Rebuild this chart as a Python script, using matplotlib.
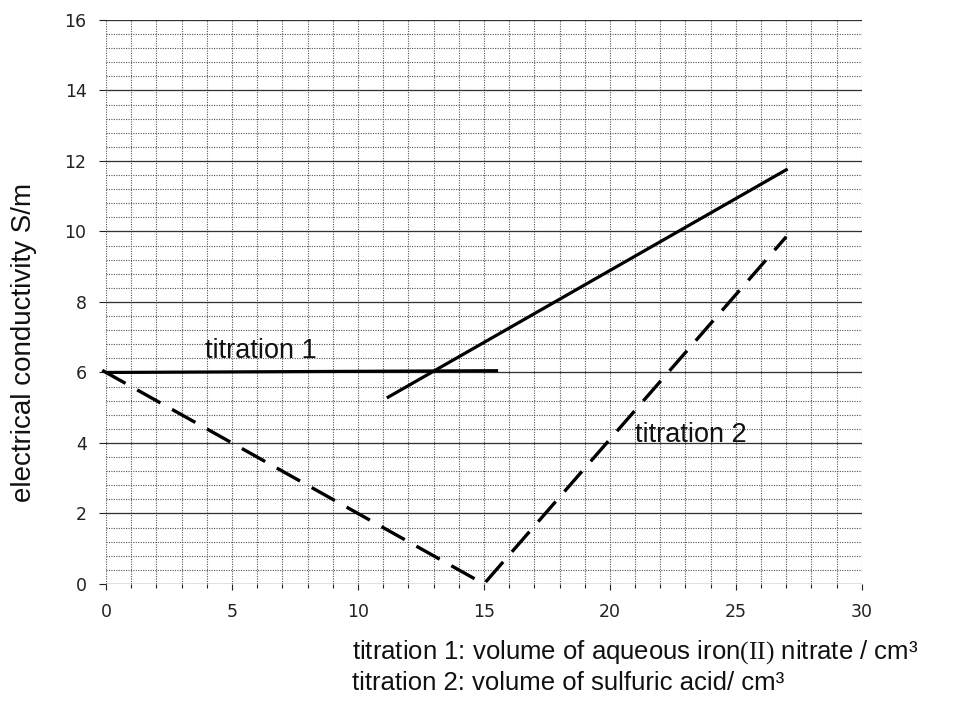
import numpy as np
import matplotlib.pyplot as plt

plt.rcParams['font.family'] = ['Liberation Sans', 'DejaVu Sans']
plt.rcParams['mathtext.fontset'] = 'custom'
plt.rcParams['mathtext.rm'] = 'Liberation Serif'

# titration 1 (solid): flat run, then the rising branch
t1_flat_x = [0, 15.5]
t1_flat_y = [6.0, 6.05]
t1_rise_x = [11.2, 27.0]
t1_rise_y = [5.3, 11.75]

# titration 2 (dashed): V-shaped curve with minimum at 15 cm3
t2_x = [-0.15, 0, 15, 27.0]
t2_y = [6.06, 6.0, 0.0, 9.85]

x_ticks = [0, 5, 10, 15, 20, 25, 30]
y_ticks = [0, 2, 4, 6, 8, 10, 12, 14, 16]

fig = plt.figure(figsize=(9.64, 7.10), dpi=100)
ax = fig.add_axes([0.110, 0.1775, 0.784, 0.7944])

ax.set_xlim(0, 30)
ax.set_ylim(0, 16)

# graph-paper grid: dotted every 1 unit in x, every 0.4 in y, solid at the majors
for xv in np.arange(0, 31, 1):
    ax.axvline(xv, color='#555555', lw=0.8, ls=(0, (1, 1.2)), zorder=1)
for yv in np.arange(0, 16.01, 0.4):
    ax.axhline(yv, color='#555555', lw=0.8, ls=(0, (1, 1.2)), zorder=1)
for yv in y_ticks:
    ax.axhline(yv, color='#333333', lw=0.9, zorder=1)

for s in ax.spines.values():
    s.set_visible(False)

ax.set_xticks(x_ticks)
ax.set_xticks(np.arange(0, 31, 1), minor=True)
ax.set_yticks(y_ticks)
ax.tick_params(axis='x', length=4, width=0.8, labelsize=12.5, pad=10, colors='#222222')
ax.tick_params(axis='x', which='minor', length=3, width=0.8, colors='#222222')
ax.tick_params(axis='y', length=5, width=0.8, labelsize=12.5, pad=9, colors='#222222')
for lab in ax.get_xticklabels() + ax.get_yticklabels():
    lab.set_family('DejaVu Sans')

ax.plot(t1_flat_x, t1_flat_y, color='black', lw=2.3, zorder=3)
ax.plot(t1_rise_x, t1_rise_y, color='black', lw=2.3, zorder=3)
ax.plot(t2_x, t2_y, color='black', lw=2.4, ls=(0, (8, 4)), zorder=3, clip_on=False)

ax.text(3.93, 6.41, 'titration 1', fontsize=19.5, color='#111111', zorder=4)
ax.text(21.0, 4.03, 'titration 2', fontsize=19.5, color='#111111', zorder=4)

fig.text(0.025, 0.517, 'electrical conductivity S/m', fontsize=20, rotation=90,
         ha='center', va='center', color='#111111')

fig.text(0.365, 0.073, r'titration 1: volume of aqueous iron$\mathrm{(II)}$ nitrate / cm³',
         fontsize=18.5, color='#111111', va='baseline')
fig.text(0.365, 0.028, 'titration 2: volume of sulfuric acid/ cm³',
         fontsize=18.5, color='#111111', va='baseline')

plt.savefig('out.png', dpi=100)
